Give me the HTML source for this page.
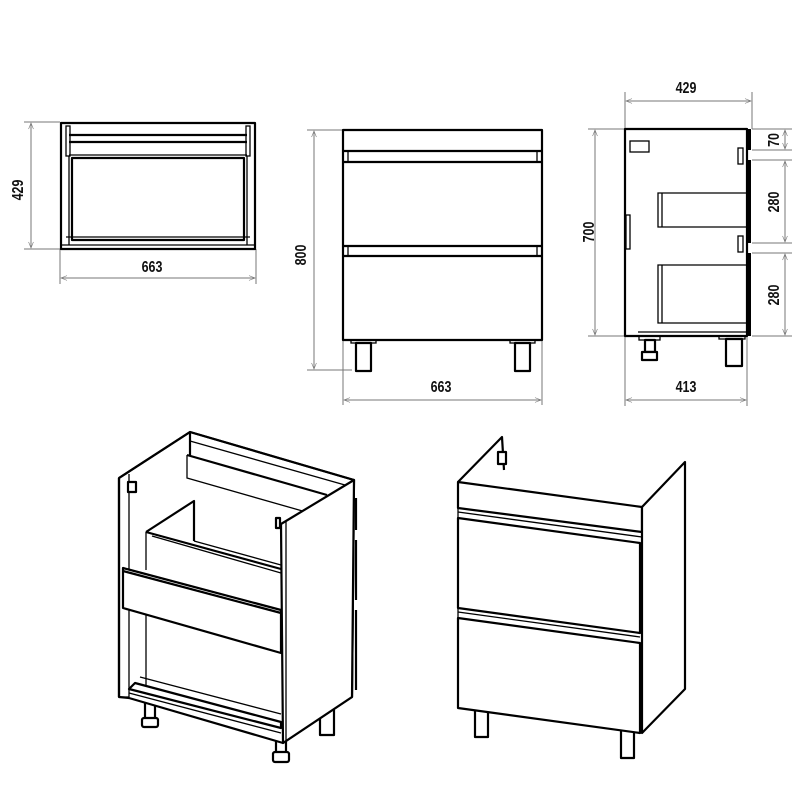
<!DOCTYPE html>
<html><head><meta charset="utf-8"><style>
html,body{margin:0;padding:0;background:#fff;width:800px;height:800px;overflow:hidden}
svg{display:block}
.t{font-family:"Liberation Sans Narrow","Liberation Sans",sans-serif;font-size:16px;font-weight:bold;fill:#111}
.d{stroke:#777;stroke-width:1;fill:none}
.k{stroke:#000;stroke-width:2.2;fill:none;stroke-linejoin:round}
.k1{stroke:#000;stroke-width:1.3;fill:none}
.w{stroke:#000;stroke-width:2.2;fill:#fff;stroke-linejoin:round}
</style></head><body>
<svg width="800" height="800" viewBox="0 0 800 800" xmlns="http://www.w3.org/2000/svg">
<defs>
<marker id="a" viewBox="0 0 10 10" refX="10" refY="5" markerWidth="9" markerHeight="6" orient="auto-start-reverse" markerUnits="userSpaceOnUse"><path d="M0,1 L10,5 L0,9" fill="none" stroke="#777" stroke-width="1"/></marker>
</defs>

<!-- TOP VIEW -->
<g>
<line class="d" x1="24" y1="122" x2="60" y2="122"/>
<line class="d" x1="24" y1="249" x2="60" y2="249"/>
<line class="d" x1="31" y1="123" x2="31" y2="248" marker-start="url(#a)" marker-end="url(#a)"/>
<text class="t" transform="translate(23,190) rotate(-90) scale(0.78,1)" text-anchor="middle">429</text>
<line class="d" x1="60" y1="249" x2="60" y2="284"/>
<line class="d" x1="256" y1="249" x2="256" y2="284"/>
<line class="d" x1="61" y1="278" x2="255" y2="278" marker-start="url(#a)" marker-end="url(#a)"/>
<text class="t" transform="translate(152,272) scale(0.78,1)" text-anchor="middle">663</text>
<rect class="k" x="61" y="123" width="194" height="126"/>
<line class="k1" x1="61" y1="245" x2="255" y2="245"/>
<line class="k" x1="69" y1="135" x2="247" y2="135"/>
<line class="k" x1="69" y1="142" x2="247" y2="142"/>
<line class="k1" x1="69" y1="155" x2="247" y2="155"/>
<rect class="k1" x="66" y="126" width="4" height="30"/>
<rect class="k1" x="246" y="126" width="4" height="30"/>
<rect class="k" x="72" y="158" width="172" height="82"/>
<line class="k1" x1="69" y1="156" x2="69" y2="245"/>
<line class="k1" x1="247" y1="156" x2="247" y2="245"/>
<line class="k1" x1="66" y1="237" x2="250" y2="237"/>
</g>

<!-- FRONT VIEW -->
<g>
<line class="d" x1="307" y1="130" x2="343" y2="130"/>
<line class="d" x1="307" y1="370" x2="352" y2="370"/>
<line class="d" x1="314" y1="131" x2="314" y2="369" marker-start="url(#a)" marker-end="url(#a)"/>
<text class="t" transform="translate(306,255) rotate(-90) scale(0.78,1)" text-anchor="middle">800</text>
<line class="d" x1="343" y1="340" x2="343" y2="405"/>
<line class="d" x1="542" y1="340" x2="542" y2="405"/>
<line class="d" x1="344" y1="400" x2="541" y2="400" marker-start="url(#a)" marker-end="url(#a)"/>
<text class="t" transform="translate(441,392) scale(0.78,1)" text-anchor="middle">663</text>
<rect class="k" x="343" y="130" width="199" height="210"/>
<line class="k" x1="343" y1="151" x2="542" y2="151"/>
<line class="k" x1="343" y1="162" x2="542" y2="162"/>
<line class="k1" x1="348" y1="151" x2="348" y2="162"/><line class="k1" x1="537" y1="151" x2="537" y2="162"/>
<line class="k" x1="343" y1="246" x2="542" y2="246"/>
<line class="k" x1="343" y1="256" x2="542" y2="256"/>
<line class="k1" x1="348" y1="246" x2="348" y2="256"/><line class="k1" x1="537" y1="246" x2="537" y2="256"/>
<rect class="k1" x="351" y="340" width="25" height="3"/>
<rect class="w" x="356" y="343" width="15" height="28"/>
<rect class="k1" x="510" y="340" width="25" height="3"/>
<rect class="w" x="515" y="343" width="15" height="28"/>
</g>

<!-- SIDE VIEW -->
<g>
<line class="d" x1="625" y1="92" x2="625" y2="129"/>
<line class="d" x1="752" y1="92" x2="752" y2="129"/>
<line class="d" x1="626" y1="101" x2="751" y2="101" marker-start="url(#a)" marker-end="url(#a)"/>
<text class="t" transform="translate(686,93) scale(0.78,1)" text-anchor="middle">429</text>
<line class="d" x1="588" y1="129" x2="625" y2="129"/>
<line class="d" x1="588" y1="336" x2="625" y2="336"/>
<line class="d" x1="595" y1="130" x2="595" y2="335" marker-start="url(#a)" marker-end="url(#a)"/>
<text class="t" transform="translate(594,232) rotate(-90) scale(0.78,1)" text-anchor="middle">700</text>
<line class="d" x1="752" y1="129" x2="792" y2="129"/>
<line class="d" x1="752" y1="150" x2="792" y2="150"/>
<line class="d" x1="752" y1="160" x2="792" y2="160"/>
<line class="d" x1="752" y1="243" x2="792" y2="243"/>
<line class="d" x1="752" y1="253" x2="792" y2="253"/>
<line class="d" x1="752" y1="336" x2="792" y2="336"/>
<line class="d" x1="785" y1="130" x2="785" y2="149" marker-start="url(#a)" marker-end="url(#a)"/>
<line class="d" x1="785" y1="161" x2="785" y2="242" marker-start="url(#a)" marker-end="url(#a)"/>
<line class="d" x1="785" y1="254" x2="785" y2="335" marker-start="url(#a)" marker-end="url(#a)"/>
<text class="t" transform="translate(779,140) rotate(-90) scale(0.78,1)" text-anchor="middle">70</text>
<text class="t" transform="translate(779,202) rotate(-90) scale(0.78,1)" text-anchor="middle">280</text>
<text class="t" transform="translate(779,295) rotate(-90) scale(0.78,1)" text-anchor="middle">280</text>
<line class="d" x1="625" y1="336" x2="625" y2="406"/>
<line class="d" x1="747" y1="336" x2="747" y2="406"/>
<line class="d" x1="626" y1="400" x2="746" y2="400" marker-start="url(#a)" marker-end="url(#a)"/>
<text class="t" transform="translate(686,392) scale(0.78,1)" text-anchor="middle">413</text>
<rect class="k" x="625" y="129" width="122" height="207"/>
<rect x="747" y="129" width="4" height="21" fill="#000"/>
<rect x="747" y="160" width="4" height="83" fill="#000"/>
<rect x="747" y="253" width="4" height="83" fill="#000"/>
<rect class="k1" x="630" y="141" width="19" height="11"/>
<rect class="k1" x="738" y="148" width="5" height="16"/>
<rect class="k1" x="738" y="236" width="5" height="16"/>
<rect class="k1" x="626" y="215" width="4" height="34"/>
<path class="k1" d="M747,193 L658,193 L658,227 L747,227"/>
<line class="k1" x1="662" y1="193" x2="662" y2="227"/>
<path class="k1" d="M747,265 L658,265 L658,323 L747,323"/>
<line class="k1" x1="662" y1="265" x2="662" y2="323"/>
<line class="k1" x1="638" y1="332" x2="746" y2="332"/>
<rect class="k1" x="639" y="336" width="21" height="4"/>
<rect class="w" x="645" y="340" width="10" height="12"/>
<rect class="w" x="642" y="352" width="15" height="8"/>
<rect class="k1" x="719" y="336" width="26" height="3"/>
<rect class="w" x="726" y="339" width="16" height="27"/>
</g>

<!-- LEFT ISO (open) -->
<g>
<!-- legs -->
<rect class="w" x="145" y="700" width="10" height="20"/><rect class="w" x="142" y="718" width="16" height="9" rx="2"/>
<rect class="w" x="276" y="738" width="10" height="16"/><rect class="w" x="273" y="752" width="16" height="10" rx="2"/>
<rect class="w" x="320" y="710" width="14" height="25"/>
<!-- back top & left panel -->
<polygon class="w" points="119,478 190,432 354,480 352,697 283,743 129,698 119,697"/>
<path class="k" d="M119,478 L190,432 L354,480"/>
<line class="k" x1="190" y1="432" x2="190" y2="455"/>
<line class="k" x1="119" y1="478" x2="119" y2="697"/>
<line class="k1" x1="129" y1="474" x2="129" y2="697"/>
<line class="k1" x1="119" y1="697" x2="129" y2="697"/>
<rect class="w" x="128" y="482" width="8" height="10"/>
<!-- back rail -->
<path class="k" d="M187,455 L327,495"/>
<path class="k1" d="M187,455 L187,478 L327,518"/>
<path class="k1" d="M190,441 L352,487"/>
<!-- inner drawer box -->
<path class="k" d="M146,532 L194,501 L194,541"/>
<path class="k" d="M146,532 L281,569"/>
<path class="k1" d="M152,536 L281,573"/>
<path class="k1" d="M194,541 L281,565"/>
<line class="k1" x1="146" y1="532" x2="146" y2="570"/>
<!-- drawer front -->
<polygon class="w" points="123,568 281,610 281,653 123,608"/>
<line class="k" x1="123" y1="571" x2="281" y2="613"/>
<line class="k1" x1="146" y1="614" x2="146" y2="690"/>
<!-- bottom frame -->
<polygon class="w" points="129,689 135,683 281,722 281,728"/>
<line class="k1" x1="129" y1="693" x2="281" y2="733"/>
<line class="k1" x1="140" y1="677" x2="281" y2="714"/>
<!-- right panel -->
<polygon class="w" points="281,524 354,480 352,697 283,743"/>
<line class="k1" x1="286" y1="521" x2="286" y2="742"/>
<line class="k1" x1="354" y1="500" x2="357" y2="500"/><line class="k" x1="356" y1="498" x2="356" y2="530"/>
<line class="k" x1="356" y1="540" x2="356" y2="600"/><line class="k" x1="356" y1="610" x2="356" y2="690"/>
<rect class="w" x="276" y="518" width="4" height="10"/>
</g>

<!-- RIGHT ISO (closed) -->
<g>
<rect class="w" x="475" y="710" width="13" height="27"/>
<rect class="w" x="621" y="730" width="13" height="28"/>
<rect class="w" x="656" y="676" width="10" height="12"/>
<path class="k" d="M458,482 L502,437 L504,470"/>
<rect class="w" x="498" y="452" width="8" height="12"/>
<polygon class="w" points="458,482 642,507 642,532 458,508"/>
<polygon class="w" points="458,518 640,543 640,633 458,608"/>
<line class="k1" x1="458" y1="512" x2="642" y2="537"/>
<polygon class="w" points="458,618 640,643 640,733 458,708"/>
<line class="k1" x1="458" y1="612" x2="640" y2="637"/>
<line class="k1" x1="458" y1="508" x2="458" y2="618"/>
<polygon class="w" points="642,507 685,462 685,689 642,733"/>
</g>
</svg>
</body></html>
